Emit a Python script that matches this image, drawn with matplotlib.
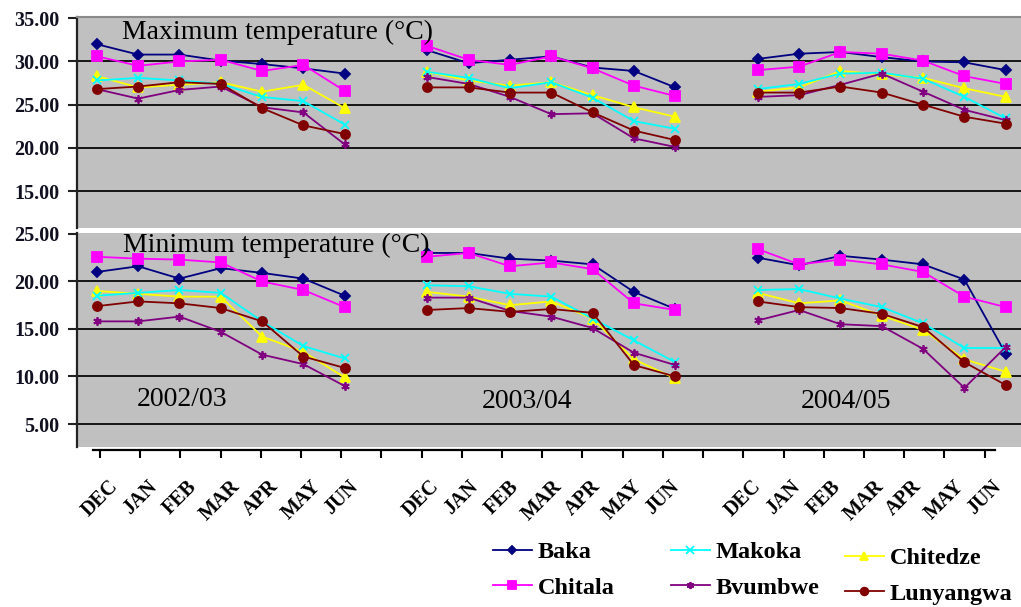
import matplotlib
matplotlib.use("Agg")
import matplotlib.pyplot as plt
from matplotlib.ticker import FormatStrFormatter, FixedLocator
from matplotlib.lines import Line2D

# ---------------- data ----------------
months = ["DEC", "JAN", "FEB", "MAR", "APR", "MAY", "JUN"]
seasons = ["2002/03", "2003/04", "2004/05"]
stations = ["Baka", "Chitala", "Chitedze", "Makoka", "Bvumbwe", "Lunyangwa"]

# Maximum temperature (°C), one list per season (DEC..JUN)
max_baka = [[32.0, 30.8, 30.8, 30.1, 29.7, 29.2, 28.6],
            [31.3, 29.8, 30.2, 30.6, 29.3, 28.9, 27.0],
            [30.3, 30.9, 31.1, 30.5, 30.0, 29.9, 29.0]]
max_chitala = [[30.6, 29.5, 30.0, 30.2, 28.9, 29.6, 26.6],
               [31.8, 30.2, 29.6, 30.6, 29.2, 27.2, 26.0],
               [29.0, 29.4, 31.1, 30.9, 30.1, 28.3, 27.4]]
max_chitedze = [[28.3, 27.0, 27.3, 27.6, 26.5, 27.3, 24.6],
                [28.8, 27.8, 27.2, 27.6, 26.1, 24.7, 23.6],
                [26.5, 27.0, 28.9, 28.5, 28.1, 26.9, 25.9]]
max_makoka = [[27.8, 28.1, 27.8, 27.4, 25.9, 25.4, 22.7],
              [28.8, 28.1, 26.9, 27.6, 25.8, 23.1, 22.2],
              [26.8, 27.4, 28.6, 28.7, 28.0, 25.9, 23.4]]
max_bvumbwe = [[26.8, 25.7, 26.7, 27.1, 24.7, 24.1, 20.4],
               [28.2, 27.4, 25.9, 23.9, 24.0, 21.1, 20.1],
               [25.9, 26.1, 27.3, 28.6, 26.5, 24.4, 23.2]]
max_lunyangwa = [[26.8, 27.1, 27.6, 27.4, 24.6, 22.6, 21.6],
                 [27.0, 27.0, 26.4, 26.4, 24.1, 22.0, 20.9],
                 [26.4, 26.4, 27.1, 26.4, 25.0, 23.6, 22.8]]

# Minimum temperature (°C)
min_baka = [[21.0, 21.6, 20.3, 21.4, 20.9, 20.3, 18.5],
            [23.0, 23.0, 22.4, 22.2, 21.8, 18.9, 17.1],
            [22.5, 21.7, 22.7, 22.3, 21.8, 20.2, 12.4]]
min_chitala = [[22.6, 22.4, 22.3, 22.0, 20.0, 19.1, 17.3],
               [22.6, 23.0, 21.6, 22.0, 21.3, 17.7, 17.0],
               [23.4, 21.8, 22.3, 21.8, 21.0, 18.4, 17.3]]
min_chitedze = [[19.0, 18.7, 18.4, 18.4, 14.2, 12.6, 9.9],
                [18.9, 18.4, 17.5, 17.9, 16.1, 11.8, 9.8],
                [18.8, 17.7, 18.0, 16.4, 14.9, 11.8, 10.5]]
min_makoka = [[18.5, 18.8, 19.1, 18.8, 15.8, 13.2, 11.9],
              [19.6, 19.5, 18.7, 18.4, 16.1, 13.8, 11.5],
              [19.1, 19.2, 18.2, 17.3, 15.6, 13.0, 13.0]]
min_bvumbwe = [[15.8, 15.8, 16.3, 14.7, 12.3, 11.3, 9.0],
               [18.3, 18.3, 16.9, 16.3, 15.1, 12.5, 11.2],
               [15.9, 17.0, 15.5, 15.3, 12.9, 8.8, 13.1]]
min_lunyangwa = [[17.4, 17.9, 17.7, 17.2, 15.8, 12.1, 10.9],
                 [17.0, 17.2, 16.8, 17.1, 16.7, 11.2, 10.0],
                 [17.9, 17.3, 17.2, 16.6, 15.2, 11.5, 9.1]]

max_ticks = [15, 20, 25, 30, 35]
min_ticks = [5, 10, 15, 20, 25]

# ---------------- styles ----------------
colors = {"Baka": "#000080", "Chitala": "#FF00FF", "Chitedze": "#FFFF00",
          "Makoka": "#00FFFF", "Bvumbwe": "#800080", "Lunyangwa": "#800000"}
markers = {"Baka": "D", "Chitala": "s", "Chitedze": "^",
           "Makoka": "x", "Bvumbwe": (6, 2, 0), "Lunyangwa": "o"}
msizes = {"Baka": 5, "Chitala": 6.5, "Chitedze": 7,
          "Makoka": 6, "Bvumbwe": 6, "Lunyangwa": 6.5}

max_data = {"Baka": max_baka, "Chitala": max_chitala, "Chitedze": max_chitedze,
            "Makoka": max_makoka, "Bvumbwe": max_bvumbwe, "Lunyangwa": max_lunyangwa}
min_data = {"Baka": min_baka, "Chitala": min_chitala, "Chitedze": min_chitedze,
            "Makoka": min_makoka, "Bvumbwe": min_bvumbwe, "Lunyangwa": min_lunyangwa}

SERIF = "Liberation Serif"
W, H = 1021, 607
fig = plt.figure(figsize=(W / 100, H / 100), dpi=100)
fig.patch.set_facecolor("white")


def box(l, t, r, b):
    return [l / W, 1 - b / H, (r - l) / W, (b - t) / H]


ax1 = fig.add_axes(box(77, 17, 1021, 228))
ax2 = fig.add_axes(box(77, 233, 1021, 447))

gap = 8  # slots between season starts (7 months + one blank)


def draw(ax, data, ticks, ylim):
    ax.set_facecolor("#C0C0C0")
    for st in stations:
        for s, vals in enumerate(data[st]):
            xs = [s * gap + m for m in range(len(months))]
            ax.plot(xs, vals, color=colors[st], marker=markers[st],
                    markersize=msizes[st], lw=1.3, mew=1.3,
                    markerfacecolor=colors[st], markeredgecolor=colors[st],
                    zorder=3)
    ax.set_xlim(-0.48, 22.37)
    ax.set_ylim(*ylim)
    ax.yaxis.set_major_locator(FixedLocator(ticks))
    ax.yaxis.set_major_formatter(FormatStrFormatter("%.2f"))
    ax.yaxis.grid(True, color="#151515", lw=1.4)
    ax.set_axisbelow(True)
    ax.set_xticks([])
    for sp in ["right", "bottom", "top"]:
        ax.spines[sp].set_visible(False)
    ax.spines["left"].set_color("#222222")
    ax.spines["left"].set_linewidth(1.6)
    ax.tick_params(axis="y", length=6.5, width=1.5, pad=6, color="#222222")
    for lab in ax.get_yticklabels():
        lab.set_fontfamily(SERIF)
        lab.set_fontweight("bold")
        lab.set_fontsize(14.5)
        lab.set_color("#101020")


draw(ax1, max_data, max_ticks, (10.72, 35.15))
draw(ax2, min_data, min_ticks, (2.58, 25.1))
# hide grid lines coinciding with the top edge
ax1.yaxis.get_gridlines()[-1].set_visible(False)
ax2.yaxis.get_gridlines()[-1].set_visible(False)
ax1.spines["top"].set_visible(True)
ax1.spines["top"].set_color("#8a8a8a")
ax1.spines["top"].set_linewidth(1.5)

# separate category axis below the charts
axx = fig.add_axes(box(93, 449, 995, 450))
axx.set_facecolor("none")
for sp in ["left", "right", "top"]:
    axx.spines[sp].set_visible(False)
axx.spines["bottom"].set_linewidth(1.6)
axx.set_yticks([])
axx.set_xlim(-0.174, 22.26)
n_slots = gap * (len(seasons) - 1) + len(months)
axx.set_xticks(range(n_slots))
labels = []
for i in range(n_slots):
    m = i % gap
    labels.append(months[m] if m < len(months) else "")
axx.set_xticklabels(labels, rotation=45, ha="center", fontfamily=SERIF,
                    fontweight="bold", fontsize=14.5)
axx.tick_params(axis="x", length=6, width=1.5, pad=13)

# panel titles and season labels
fig.text(122 / W, 1 - 32 / H, "Maximum temperature (°C)", fontfamily=SERIF,
         fontsize=20, va="center", ha="left")
fig.text(123 / W, 1 - 245 / H, "Minimum temperature (°C)", fontfamily=SERIF,
         fontsize=20, va="center", ha="left")
for s, (xc, yc) in zip(seasons, [(182, 399), (527, 402), (846, 402)]):
    fig.text(xc / W, 1 - yc / H, s, fontfamily=SERIF, fontsize=20,
             va="center", ha="center")

# legend: three columns
def handle(st):
    return Line2D([], [], color=colors[st], marker=markers[st],
                  markersize=msizes[st] * 0.85, lw=1.3, mew=1.3,
                  markerfacecolor=colors[st], markeredgecolor=colors[st])

cols = [(["Baka", "Chitala"], 493, 570),
        (["Makoka", "Bvumbwe"], 671, 570),
        (["Chitedze", "Lunyangwa"], 845, 576)]
for names, xl, yc in cols:
    fig.legend([handle(n) for n in names], names, loc="center left",
               bbox_to_anchor=(xl / W, 1 - yc / H), frameon=False,
               borderpad=0, borderaxespad=0, handlelength=1.6,
               handletextpad=0.25, labelspacing=0.55,
               prop={"family": SERIF, "weight": "bold", "size": 17.5})

fig.savefig("out.png", dpi=100, facecolor="white")
